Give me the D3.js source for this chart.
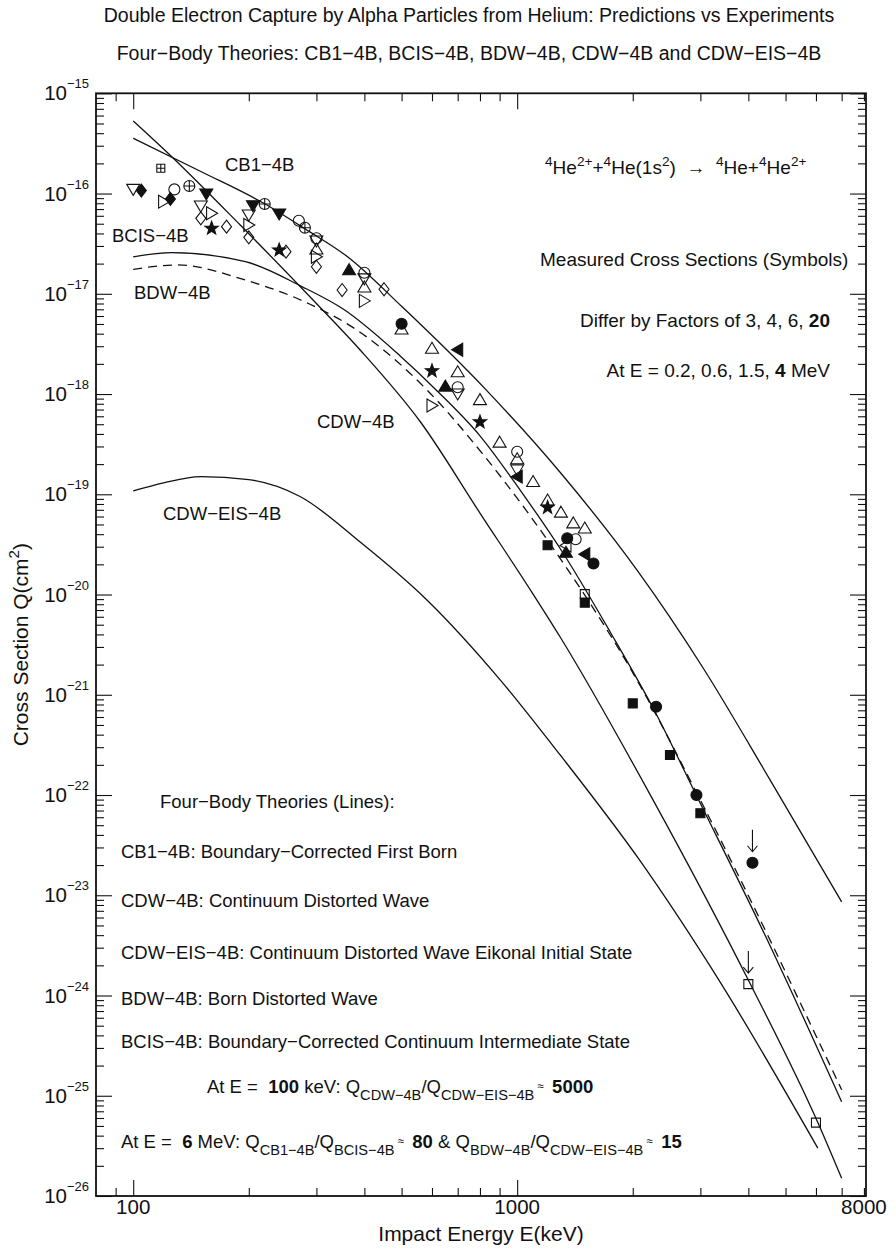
<!DOCTYPE html>
<html>
<head>
<meta charset="utf-8">
<script src="https://cdn.jsdelivr.net/npm/d3@7"></script>
<style>
  body { margin: 0; background: #fff; }
  text { font-family: "Liberation Sans", Arial, Helvetica, sans-serif; fill: #111; white-space: pre; }
</style>
</head>
<body>
<div id="chart"></div>
<script>
// ---- theory curves: [E (keV), Q (cm^2)] ----
const cb1Curve = [[100, 3.56e-16], [150, 1.66e-16], [220, 7.9e-17], [280, 4.45e-17], [365, 2.28e-17],
  [500, 7.5e-18], [830, 1.1e-18], [1300, 1.62e-19], [2050, 1.76e-20], [3050, 1.85e-21],
  [4560, 1.41e-22], [7000, 8.6e-24]];
const cdwCurve = [[100, 5.3e-16], [126, 2.33e-16], [190, 4.85e-17], [294, 8.67e-18], [390, 2.75e-18],
  [560, 5.26e-19], [800, 6.5e-20], [1100, 1.01e-20], [1294, 3.77e-21], [2260, 8.9e-23], [4045, 1.31e-24],
  [6068, 5.4e-26], [7000, 1.5e-26]];
const bcisCurve = [[100, 2.34e-17], [126, 2.57e-17], [196, 2.09e-17], [275, 1.18e-17], [353, 7.0e-18],
  [495, 2.41e-18], [618, 1.08e-18], [801, 3.81e-19], [1018, 1.1e-19], [1318, 2.58e-20], [1747, 4.23e-21],
  [2288, 6.73e-22], [2926, 1.0e-22], [4560, 3.12e-24], [7000, 8.7e-26]];
const bdwCurve = [[100, 1.75e-17], [130, 1.94e-17], [196, 1.37e-17], [286, 8.0e-18], [382, 4.36e-18],
  [582, 1.1e-18], [817, 2.47e-19], [1320, 2.05e-20], [2050, 1.41e-21], [3000, 8.9e-23], [7000, 1.15e-25]];
const cdwEisCurve = [[100, 1.08e-19], [120, 1.3e-19], [150, 1.5e-19], [200, 1.4e-19], [272, 9.5e-20],
  [390, 3.34e-20], [582, 8.83e-21], [903, 1.41e-21], [1294, 2.51e-22], [2091, 2.2e-23], [3378, 1.36e-24],
  [6068, 3.0e-26]];

// ---- measurements: [E (keV), Q (cm^2)] ----
const openDownTri = [[100, 1.1e-16], [150, 7.5e-17], [200, 6.1e-17], [300, 3.36e-17], [400, 1.41e-17],
  [700, 1.0e-18], [1000, 1.75e-19]];
const openUpTri = [[300, 2.8e-17], [400, 1.17e-17], [500, 4.46e-18], [600, 2.86e-18], [700, 1.67e-18],
  [800, 8.8e-19], [900, 3.31e-19], [1000, 2.26e-19], [1100, 1.34e-19], [1200, 8.77e-20],
  [1300, 6.63e-20], [1400, 5.18e-20], [1500, 4.61e-20]];
const openCircle = [[128, 1.1e-16], [270, 5.36e-17], [300, 3.58e-17], [400, 1.62e-17], [700, 1.17e-18],
  [1000, 2.66e-19], [1420, 3.56e-20]];
const openRightTri = [[120, 8.3e-17], [160, 6.35e-17], [200, 4.86e-17], [300, 2.34e-17], [400, 8.5e-18],
  [600, 7.7e-19]];
const openDiamond = [[150, 5.66e-17], [175, 4.67e-17], [200, 3.66e-17], [250, 2.63e-17], [300, 1.86e-17],
  [350, 1.09e-17], [450, 1.11e-17]];
const openLeftTri = [[1340, 3.08e-20]];
const openSquare = [[1500, 1.01e-20], [4000, 1.3e-24], [6000, 5.4e-26]];
const squarePlus = [[118, 1.79e-16]];
const circlePlus = [[140, 1.19e-16], [220, 7.87e-17], [280, 4.56e-17]];
const filledDiamond = [[105, 1.07e-16], [125, 8.83e-17]];
const filledDownTri = [[155, 9.9e-17], [205, 7.56e-17], [240, 6.25e-17]];
const filledStar = [[160, 4.5e-17], [240, 2.73e-17], [600, 1.7e-18], [800, 5.26e-19], [1200, 7.38e-20]];
const filledUpTri = [[365, 1.74e-17], [650, 1.2e-18], [1340, 2.64e-20]];
const filledLeftTri = [[700, 2.77e-18], [1000, 1.5e-19], [1500, 2.52e-20]];
const filledCircle = [[500, 5.03e-18], [1350, 3.64e-20], [1580, 2.04e-20], [2300, 7.6e-22],
  [2930, 1.0e-22], [4100, 2.11e-23]];
const filledSquare = [[1200, 3.1e-20], [1500, 8.3e-21], [2000, 8.2e-22], [2500, 2.51e-22], [3000, 6.58e-23]];
const upperLimits = [[4100, 2.11e-23], [4000, 1.3e-24]];

// ---- ticks ----
const xMajorTicks = [100, 1000];
const xMinorTicks = [90, 200, 300, 400, 500, 600, 700, 800, 900, 2000, 3000, 4000, 5000, 6000, 7000, 8000];
const xTickLabels = [100, 1000, 8000];
const yExponents = [-15, -16, -17, -18, -19, -20, -21, -22, -23, -24, -25, -26];
const yMinorMantissas = [2, 3, 4, 5, 6, 7, 8, 9];

const width = 896;
const height = 1254;
const plot = { left: 96, right: 866, top: 93.3, bottom: 1196 };

const svg = d3
  .select("#chart")
  .append("svg")
  .attr("width", width)
  .attr("height", height);
svg.append("rect").attr("width", width).attr("height", height).attr("fill", "#fff");

const x = d3.scaleLog().domain([80, 8100]).range([plot.left, plot.right]);
const y = d3.scaleLog().domain([1e-26, 1e-15]).range([plot.bottom, plot.top]);

const yMajorTicks = yExponents.map((e) => Math.pow(10, e));
const yMinorTicks = [];
yExponents.slice(1).forEach((e) => yMinorMantissas.forEach((m) => yMinorTicks.push(m * Math.pow(10, e))));

// ticks, all pointing inward
function tickLayer(axis, transform, values, size) {
  svg
    .append("g")
    .attr("transform", transform)
    .call(axis.tickValues(values).tickSize(-size).tickSizeOuter(0).tickFormat(""))
    .call((g) => g.select(".domain").remove())
    .call((g) => g.selectAll("line").attr("stroke", "#111").attr("stroke-width", 1.1));
}
tickLayer(d3.axisBottom(x), `translate(0,${plot.bottom})`, xMajorTicks, 16);
tickLayer(d3.axisBottom(x), `translate(0,${plot.bottom})`, xMinorTicks, 8);
tickLayer(d3.axisTop(x), `translate(0,${plot.top})`, xMajorTicks, 16);
tickLayer(d3.axisTop(x), `translate(0,${plot.top})`, xMinorTicks, 8);
tickLayer(d3.axisLeft(y), `translate(${plot.left},0)`, yMajorTicks, 16);
tickLayer(d3.axisLeft(y), `translate(${plot.left},0)`, yMinorTicks, 8);
tickLayer(d3.axisRight(y), `translate(${plot.right},0)`, yMajorTicks, 16);
tickLayer(d3.axisRight(y), `translate(${plot.right},0)`, yMinorTicks, 8);

svg
  .append("rect")
  .attr("x", plot.left)
  .attr("y", plot.top)
  .attr("width", plot.right - plot.left)
  .attr("height", plot.bottom - plot.top)
  .attr("fill", "none")
  .attr("stroke", "#111")
  .attr("stroke-width", 1.8);

// tick labels
svg
  .append("g")
  .selectAll("text")
  .data(xTickLabels)
  .join("text")
  .attr("x", (d) => x(d))
  .attr("y", plot.bottom + 18)
  .attr("text-anchor", "middle")
  .attr("font-size", 20.5)
  .text((d) => d);

const yLab = svg.append("g").selectAll("g").data(yExponents).join("g");
yLab
  .append("text")
  .attr("x", 67)
  .attr("y", (d) => y(Math.pow(10, d)) + 7)
  .attr("text-anchor", "end")
  .attr("font-size", 20.5)
  .text("10");
yLab
  .append("text")
  .attr("x", 67)
  .attr("y", (d) => y(Math.pow(10, d)) - 5)
  .attr("font-size", 13)
  .text((d) => "−" + Math.abs(d));

// rich text helper: parts are strings or [string, kind]
function rich(px, py, parts, size) {
  const t = svg.append("text").attr("x", px).attr("y", py).attr("font-size", size);
  let shift = 0;
  parts.forEach((p) => {
    const [str, kind] = typeof p === "string" ? [p, ""] : p;
    const target =
      kind === "sup" ? -0.42 * size : kind === "sub" ? 0.4 * size : kind === "approx" ? -0.16 * size : 0;
    const ts = t.append("tspan").attr("dy", target - shift).text(str);
    shift = target;
    if (kind === "b") ts.attr("font-weight", "bold");
    if (kind === "sup") ts.attr("font-size", size * 0.72);
    if (kind === "sub") ts.attr("font-size", size * 0.79);
    if (kind === "approx") ts.attr("font-size", size * 0.62);
  });
  return t;
}

// titles
svg.append("text").attr("x", 469).attr("y", 22).attr("text-anchor", "middle").attr("font-size", 19.5)
  .text("Double Electron Capture by Alpha Particles from Helium: Predictions vs Experiments");
svg.append("text").attr("x", 469).attr("y", 60).attr("text-anchor", "middle").attr("font-size", 19.5)
  .text("Four−Body Theories: CB1−4B, BCIS−4B, BDW−4B, CDW−4B and CDW−EIS−4B");

svg.append("text").attr("x", (plot.left + plot.right) / 2).attr("y", 1241).attr("text-anchor", "middle")
  .attr("font-size", 21).text("Impact Energy E(keV)");
rich(0, 0, ["Cross Section Q(cm", ["2", "sup"], ")"], 21)
  .attr("text-anchor", "middle")
  .attr("transform", `translate(28,${(plot.top + plot.bottom) / 2}) rotate(-90)`);

// theory curves
const line = d3
  .line()
  .x((d) => x(d[0]))
  .y((d) => y(d[1]))
  .curve(d3.curveMonotoneX);
const curves = [
  [cb1Curve, null],
  [cdwCurve, null],
  [bcisCurve, null],
  [bdwCurve, "9,6"],
  [cdwEisCurve, null],
];
curves.forEach(([data, dash]) => {
  svg
    .append("path")
    .datum(data)
    .attr("d", line)
    .attr("fill", "none")
    .attr("stroke", "#111")
    .attr("stroke-width", 1.3)
    .attr("stroke-dasharray", dash);
});

// marker shapes
const circ = (r) => `M${r},0A${r},${r} 0 1,1 ${-r},0A${r},${r} 0 1,1 ${r},0Z`;
function starPath(R, r) {
  const pts = d3.range(10).map((i) => {
    const a = (i * Math.PI) / 5 - Math.PI / 2;
    const rr = i % 2 ? r : R;
    return [rr * Math.cos(a), rr * Math.sin(a)];
  });
  return "M" + pts.map((p) => p.join(",")).join("L") + "Z";
}
const shapes = {
  triUp: "M0,-6L6.5,5L-6.5,5Z",
  triDown: "M0,6L6.5,-5L-6.5,-5Z",
  triRight: "M6,0L-5,-6.5L-5,6.5Z",
  triLeft: "M-6,0L5,-6.5L5,6.5Z",
  diamond: "M0,-6.5L5,0L0,6.5L-5,0Z",
  square: "M-4.5,-4.5H4.5V4.5H-4.5Z",
  circle: circ(5.5),
  star: starPath(7, 2.9),
  circlePlus: circ(5.5) + "M-5.5,0H5.5M0,-5.5V5.5",
  squarePlus: "M-4,-4H4V4H-4ZM-4,0H4M0,-4V4",
};

const markerSets = [
  [openUpTri, "triUp", false],
  [openDownTri, "triDown", false],
  [openCircle, "circle", false],
  [openRightTri, "triRight", false],
  [openDiamond, "diamond", false],
  [openLeftTri, "triLeft", false],
  [openSquare, "square", false],
  [squarePlus, "squarePlus", false],
  [circlePlus, "circlePlus", false],
  [filledDiamond, "diamond", true],
  [filledDownTri, "triDown", true],
  [filledStar, "star", true],
  [filledUpTri, "triUp", true],
  [filledLeftTri, "triLeft", true],
  [filledCircle, "circle", true],
  [filledSquare, "square", true],
];
markerSets.forEach(([data, shape, filled]) => {
  svg
    .append("g")
    .selectAll("path")
    .data(data)
    .join("path")
    .attr("transform", (d) => `translate(${x(d[0])},${y(d[1])})`)
    .attr("d", shapes[shape])
    .attr("fill", filled ? "#111" : "none")
    .attr("stroke", "#111")
    .attr("stroke-width", 1.1);
});

// upper-limit arrows
svg
  .append("g")
  .selectAll("path")
  .data(upperLimits)
  .join("path")
  .attr("transform", (d) => `translate(${x(d[0])},${y(d[1])})`)
  .attr("d", "M0,-33V-11M-5,-17L0,-11L5,-17")
  .attr("fill", "none")
  .attr("stroke", "#111")
  .attr("stroke-width", 1.1);

// curve labels
const fs = 18.5;
svg.append("text").attr("x", 225).attr("y", 171).attr("font-size", fs).text("CB1−4B");
svg.append("text").attr("x", 112).attr("y", 242).attr("font-size", fs).text("BCIS−4B");
svg.append("text").attr("x", 134).attr("y", 299).attr("font-size", fs).text("BDW−4B");
svg.append("text").attr("x", 317).attr("y", 428).attr("font-size", fs).text("CDW−4B");
svg.append("text").attr("x", 163).attr("y", 520).attr("font-size", fs).text("CDW−EIS−4B");

// right-hand notes
const fsNote = 19;
rich(545, 174, [["4", "sup"], "He", ["2+", "sup"], "+", ["4", "sup"], "He(1s", ["2", "sup"], ")  →  ",
  ["4", "sup"], "He+", ["4", "sup"], "He", ["2+", "sup"]], fsNote);
rich(540, 266, ["Measured Cross Sections (Symbols)"], fsNote);
rich(830, 327, ["Differ by Factors of 3, 4, 6, ", ["20", "b"]], fsNote).attr("text-anchor", "end");
rich(830, 377, ["At E = 0.2, 0.6, 1.5, ", ["4", "b"], " MeV"], fsNote).attr("text-anchor", "end");

// lower-left legend
rich(160, 808, ["Four−Body Theories (Lines):"], fs);
rich(121, 858, ["CB1−4B: Boundary−Corrected First Born"], fs);
rich(121, 907, ["CDW−4B: Continuum Distorted Wave"], fs);
rich(121, 959, ["CDW−EIS−4B: Continuum Distorted Wave Eikonal Initial State"], fs);
rich(121, 1005, ["BDW−4B: Born Distorted Wave"], fs);
rich(121, 1048, ["BCIS−4B: Boundary−Corrected Continuum Intermediate State"], fs);
rich(207, 1093, ["At E =  ", ["100", "b"], " keV: Q", ["CDW−4B", "sub"], "/Q", ["CDW−EIS−4B", "sub"],
  [" ≈ ", "approx"], [" 5000", "b"]], fs);
rich(121, 1148, ["At E =  ", ["6", "b"], " MeV: Q", ["CB1−4B", "sub"], "/Q", ["BCIS−4B", "sub"],
  [" ≈ ", "approx"], [" 80", "b"], " & Q", ["BDW−4B", "sub"], "/Q", ["CDW−EIS−4B", "sub"],
  [" ≈ ", "approx"], [" 15", "b"]], fs);
</script>
</body>
</html>
